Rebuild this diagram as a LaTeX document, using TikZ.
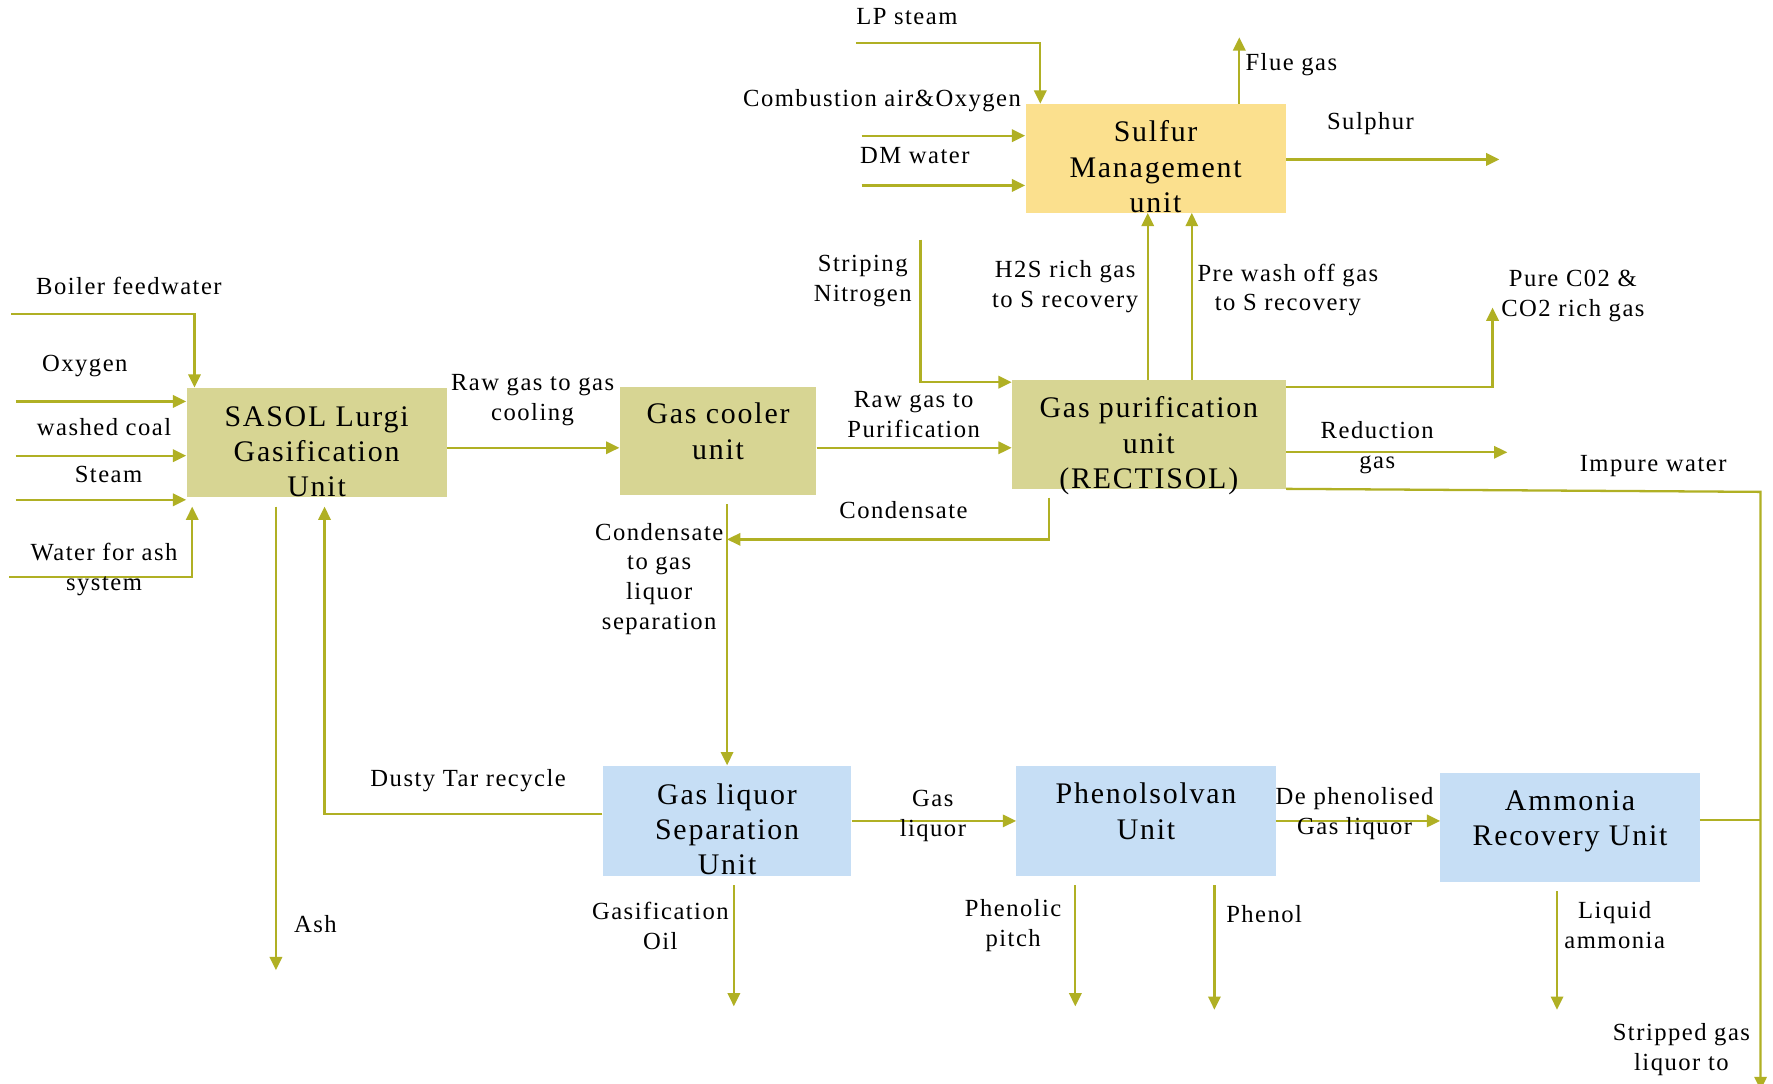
\documentclass[tikz,border=0pt]{standalone}
\usepackage{fontspec}
\setmainfont{Liberation Serif}[LetterSpace=6]
\usetikzlibrary{arrows.meta}

\definecolor{flowline}{RGB}{176,176,36}
\definecolor{gasifbox}{RGB}{215,213,147}
\definecolor{sulfbox}{RGB}{251,224,142}
\definecolor{liqbox}{RGB}{198,222,245}

% box text hangs from the top of its box
\newcommand{\unitname}[2][-6.7pt]{\raisebox{#1}[\height][\depth]{\begin{tabular}{@{}c@{}}#2\end{tabular}}}

\begin{document}
\begin{tikzpicture}[x=0.0226cm,y=-0.0226cm,
    unitbox/.style={rectangle,inner sep=0pt,font=\fontsize{17}{20}\selectfont},
    flowtext/.style={align=center,inner sep=1pt,font=\fontsize{14}{17}\selectfont},
    flow/.style={draw=flowline,line width=1.3pt,-{Triangle[length=7.5pt,width=7pt]}},
    pipe/.style={draw=flowline,line width=1.3pt},
    gap/.style={shorten <=5pt}]
    \path[use as bounding box,fill=white] (0,0) rectangle (1568,958);

    % Units
    \node[unitbox,fill=gasifbox,minimum width=5.20cm,minimum height=2.19cm] (sasol) at (280,391.5) {\unitname{SASOL Lurgi\\Gasification\\Unit}};
    \node[unitbox,fill=gasifbox,minimum width=3.93cm,minimum height=2.17cm] (cooler) at (635,390) {\unitname[3.7pt]{Gas cooler\\unit}};
    \node[unitbox,fill=gasifbox,minimum width=5.47cm,minimum height=2.17cm] (rect) at (1016,384) {\unitname{Gas purification\\unit\\(RECTISOL)}};
    \node[unitbox,fill=sulfbox,minimum width=5.20cm,minimum height=2.17cm] (sulfur) at (1022,140) {\unitname{Sulfur\\Management\\unit}};
    \node[unitbox,fill=liqbox,minimum width=4.97cm,minimum height=2.21cm] (gls) at (643,726) {\unitname{Gas liquor\\Separation\\Unit}};
    \node[unitbox,fill=liqbox,minimum width=5.18cm,minimum height=2.21cm] (phenol) at (1013.5,726) {\unitname[3.7pt]{Phenolsolvan\\Unit}};
    \node[unitbox,fill=liqbox,minimum width=5.18cm,minimum height=2.17cm] (ammonia) at (1388.5,732) {\unitname[3.7pt]{Ammonia\\Recovery Unit}};

    % Feeds to the gasifier
    \coordinate (bfw) at (10,278);
    \coordinate (bfwk) at (172,278);
    \draw[flow] (bfw) -- (bfwk) -- (bfwk |- sasol.north);
    \coordinate (oxy) at (14,355);
    \draw[flow] (oxy) -- (oxy -| sasol.west);
    \coordinate (coal) at (14,403);
    \draw[flow] (coal) -- (coal -| sasol.west);
    \coordinate (steam) at (14,442);
    \draw[flow] (steam) -- (steam -| sasol.west);
    \coordinate (wash) at (8,510);
    \coordinate (washk) at (170,510);
    \draw[flow,shorten >=5pt] (wash) -- (washk) -- (washk |- sasol.south);

    \node[flowtext] (lbfw) at (114,253) {Boiler feedwater};
    \node[flowtext] (loxy) at (75,324) {Oxygen};
    \node[flowtext] (lcoal) at (92,378) {washed coal};
    \node[flowtext] (lsteam) at (96,420) {Steam};
    \node[flowtext] (lwash) at (92,503.5) {Water for ash\\system};

    % Gasifier products
    \draw[flow] (sasol.east |- 0,396) -- (cooler.west |- 0,396);
    \coordinate (ashend) at (244,858);
    \draw[flow,gap] (ashend |- sasol.south) -- (ashend);
    \coordinate (tark) at (287,720);
    \draw[flow,shorten >=5pt] (gls.west |- tark) -- (tark) -- (tark |- sasol.south);

    \node[flowtext] (lrawgas) at (471,353.5) {Raw gas to gas\\cooling};
    \node[flowtext] (lash) at (279,817) {Ash};
    \node[flowtext] (ltar) at (414,690) {Dusty Tar recycle};

    % Gas cooler
    \draw[flow] (cooler.east |- 0,396) -- (rect.west |- 0,396);
    \coordinate (condk) at (643,477);
    \draw[flow,gap] (condk |- cooler.south) -- (condk |- gls.north);
    \coordinate (rcond) at (928,477);
    \draw[flow,gap] (rcond |- rect.south) -- (rcond) -- (condk);

    \node[flowtext] (lrawpur) at (808,366.5) {Raw gas to\\Purification};
    \node[flowtext] (lcond1) at (583,512) {Condensate\\to gas\\liquor\\separation};
    \node[flowtext] (lcond2) at (799,451) {Condensate};

    % Gas purification
    \coordinate (n2) at (814,212);
    \coordinate (n2k) at (814,338);
    \draw[flow] (n2) -- (n2k) -- (n2k -| rect.west);
    \coordinate (h2s) at (1015,260);
    \draw[flow] (h2s |- rect.north) -- (h2s |- sulfur.south);
    \coordinate (prew) at (1054,260);
    \draw[flow] (prew |- rect.north) -- (prew |- sulfur.south);
    \coordinate (co2k) at (1320,342);
    \coordinate (co2) at (1320,272);
    \draw[flow] (rect.east |- co2k) -- (co2k) -- (co2);
    \coordinate (redg) at (1333,400);
    \draw[flow] (rect.east |- redg) -- (redg);
    \coordinate (impk) at (1557,435);
    \coordinate (impend) at (1557,964);
    \draw[flow] (rect.south east) -- (impk) -- (impend);

    \node[flowtext] (ln2) at (763,248.5) {Striping\\Nitrogen};
    \node[flowtext] (lh2s) at (942,253.5) {H2S rich gas\\to S recovery};
    \node[flowtext] (lprew) at (1139,256.5) {Pre wash off gas\\to S recovery};
    \node[flowtext] (lco2) at (1391,261.5) {Pure C02 \&\\CO2 rich gas};
    \node[flowtext] (lred) at (1218,396) {Reduction\\gas};
    \node[flowtext] (limp) at (1462,412) {Impure water};

    % Sulfur management
    \coordinate (lps) at (757,38);
    \coordinate (lpsk) at (920,38);
    \draw[flow] (lps) -- (lpsk) -- (lpsk |- sulfur.north);
    \coordinate (cair) at (762,120);
    \draw[flow] (cair) -- (cair -| sulfur.west);
    \coordinate (dmw) at (762,164);
    \draw[flow] (dmw) -- (dmw -| sulfur.west);
    \coordinate (flue) at (1096,33);
    \draw[flow] (flue |- sulfur.north) -- (flue);
    \coordinate (sulph) at (1326,141);
    \draw[flow] (sulfur.east |- sulph) -- (sulph);

    \node[flowtext] (llps) at (802,15) {LP steam};
    \node[flowtext] (lcair) at (780,89) {Combustion air\&Oxygen};
    \node[flowtext] (ldmw) at (809,138) {DM water};
    \node[flowtext] (lflue) at (1142,57) {Flue gas};
    \node[flowtext] (lsulph) at (1212,109) {Sulphur};

    % Gas liquor treatment
    \draw[flow] (gls) -- (phenol);
    \draw[flow] (phenol.east) -- (phenol.east -| ammonia.west);
    \coordinate (sgl) at (1557,725);
    \draw[pipe] (ammonia.east |- sgl) -- (sgl);
    \coordinate (goil) at (649,890);
    \draw[flow,gap] (goil |- gls.south) -- (goil);
    \coordinate (ppitch) at (951,890);
    \draw[flow,gap] (ppitch |- phenol.south) -- (ppitch);
    \coordinate (phnl) at (1074,893);
    \draw[flow,gap] (phnl |- phenol.south) -- (phnl);
    \coordinate (nh3) at (1377,893);
    \draw[flow,gap] (nh3 |- ammonia.south) -- (nh3);

    \node[flowtext] (lgasliq) at (825,721.5) {Gas\\liquor};
    \node[flowtext] (ldephen) at (1198,719.5) {De phenolised\\Gas liquor};
    \node[flowtext] (lgoil) at (584,818.5) {Gasification\\Oil};
    \node[flowtext] (lppitch) at (896,818.5) {Phenolic\\pitch};
    \node[flowtext] (lphenol) at (1118,808) {Phenol};
    \node[flowtext] (lnh3) at (1428,818.5) {Liquid\\ammonia};
    \node[flowtext] (lstrip) at (1487,928.5) {Stripped gas\\liquor to};
\end{tikzpicture}
\end{document}
